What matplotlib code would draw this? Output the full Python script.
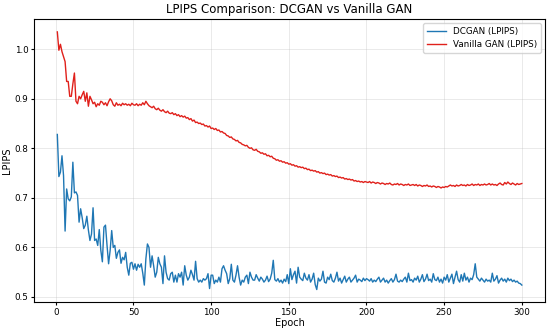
"""LPIPS comparison of DCGAN and Vanilla GAN over training epochs."""

import matplotlib

matplotlib.use("Agg")
import matplotlib.pyplot as plt
import numpy as np

# LPIPS per epoch (epochs 1..300)
dcgan_lpips = [
    0.828, 0.743, 0.752, 0.785, 0.745, 0.633, 0.718, 0.698, 0.694, 0.702,
    0.772, 0.710, 0.712, 0.705, 0.651, 0.678, 0.660, 0.638, 0.645, 0.663,
    0.635, 0.614, 0.627, 0.680, 0.614, 0.617, 0.604, 0.636, 0.594, 0.571,
    0.641, 0.645, 0.604, 0.567, 0.594, 0.634, 0.600, 0.604, 0.578, 0.590,
    0.595, 0.568, 0.580, 0.575, 0.590, 0.560, 0.544, 0.568, 0.570, 0.556,
    0.567, 0.554, 0.566, 0.560, 0.567, 0.548, 0.524, 0.577, 0.607, 0.600,
    0.560, 0.583, 0.563, 0.540, 0.550, 0.580, 0.567, 0.560, 0.527, 0.583,
    0.550, 0.537, 0.534, 0.547, 0.550, 0.530, 0.544, 0.530, 0.547, 0.540,
    0.550, 0.524, 0.563, 0.544, 0.534, 0.540, 0.554, 0.545, 0.534, 0.572,
    0.537, 0.530, 0.534, 0.530, 0.537, 0.534, 0.537, 0.547, 0.517, 0.544,
    0.544, 0.527, 0.534, 0.530, 0.540, 0.530, 0.557, 0.563, 0.554, 0.547,
    0.527, 0.537, 0.566, 0.534, 0.530, 0.544, 0.563, 0.540, 0.524, 0.534,
    0.530, 0.540, 0.544, 0.527, 0.550, 0.540, 0.534, 0.534, 0.545, 0.538,
    0.532, 0.540, 0.536, 0.530, 0.534, 0.542, 0.531, 0.536, 0.548, 0.574,
    0.535, 0.532, 0.537, 0.530, 0.534, 0.528, 0.536, 0.531, 0.545, 0.527,
    0.557, 0.535, 0.545, 0.552, 0.528, 0.560, 0.540, 0.536, 0.533, 0.548,
    0.538, 0.534, 0.545, 0.530, 0.536, 0.548, 0.525, 0.515, 0.538, 0.532,
    0.536, 0.552, 0.530, 0.528, 0.540, 0.535, 0.546, 0.533, 0.530, 0.538,
    0.550, 0.532, 0.538, 0.528, 0.535, 0.542, 0.530, 0.536, 0.540, 0.530,
    0.534, 0.538, 0.544, 0.530, 0.536, 0.534, 0.531, 0.538, 0.533, 0.537,
    0.535, 0.532, 0.537, 0.530, 0.534, 0.531, 0.536, 0.540, 0.530, 0.534,
    0.538, 0.530, 0.534, 0.528, 0.533, 0.537, 0.530, 0.535, 0.546, 0.532,
    0.530, 0.534, 0.531, 0.536, 0.540, 0.530, 0.548, 0.533, 0.535, 0.530,
    0.538, 0.534, 0.542, 0.530, 0.536, 0.545, 0.531, 0.536, 0.546, 0.533,
    0.536, 0.530, 0.547, 0.535, 0.533, 0.540, 0.530, 0.536, 0.528, 0.540,
    0.534, 0.545, 0.530, 0.538, 0.546, 0.527, 0.540, 0.552, 0.535, 0.530,
    0.545, 0.532, 0.548, 0.534, 0.540, 0.530, 0.538, 0.535, 0.545, 0.567,
    0.540, 0.536, 0.532, 0.538, 0.534, 0.530, 0.536, 0.532, 0.534, 0.530,
    0.548, 0.532, 0.536, 0.543, 0.528, 0.534, 0.538, 0.532, 0.536, 0.530,
    0.538, 0.533, 0.536, 0.531, 0.534, 0.530, 0.532, 0.528, 0.527, 0.524,
]

vanilla_lpips = [
    1.035, 0.998, 1.010, 0.995, 0.985, 0.975, 0.935, 0.935, 0.905, 0.905,
    0.930, 0.952, 0.895, 0.890, 0.905, 0.900, 0.908, 0.915, 0.895, 0.912,
    0.885, 0.905, 0.898, 0.890, 0.893, 0.884, 0.890, 0.887, 0.895, 0.893,
    0.888, 0.892, 0.886, 0.894, 0.900, 0.896, 0.888, 0.885, 0.892, 0.887,
    0.889, 0.886, 0.891, 0.888, 0.890, 0.887, 0.889, 0.886, 0.891, 0.888,
    0.887, 0.890, 0.886, 0.889, 0.887, 0.892, 0.888, 0.895, 0.890, 0.886,
    0.884, 0.882, 0.885, 0.880, 0.878, 0.881, 0.877, 0.875, 0.878, 0.874,
    0.872, 0.875, 0.871, 0.870, 0.872, 0.868, 0.870, 0.866, 0.868, 0.864,
    0.866, 0.863, 0.865, 0.861, 0.862, 0.858, 0.860, 0.855, 0.857, 0.852,
    0.853, 0.850, 0.851, 0.848, 0.849, 0.845, 0.846, 0.843, 0.845, 0.840,
    0.841, 0.838, 0.840, 0.836, 0.837, 0.833, 0.834, 0.831, 0.830, 0.826,
    0.825, 0.822, 0.823, 0.819, 0.818, 0.815, 0.816, 0.812, 0.811, 0.808,
    0.807, 0.805, 0.806, 0.802, 0.800, 0.801, 0.797, 0.796, 0.798, 0.794,
    0.793, 0.790, 0.791, 0.788, 0.789, 0.785, 0.786, 0.783, 0.784, 0.780,
    0.779, 0.776, 0.777, 0.774, 0.775, 0.772, 0.773, 0.770, 0.771, 0.768,
    0.769, 0.766, 0.767, 0.764, 0.765, 0.762, 0.763, 0.761, 0.762, 0.759,
    0.760, 0.757, 0.758, 0.755, 0.756, 0.754, 0.755, 0.752, 0.753, 0.750,
    0.751, 0.749, 0.750, 0.747, 0.748, 0.746, 0.747, 0.744, 0.745, 0.743,
    0.744, 0.741, 0.742, 0.740, 0.741, 0.738, 0.739, 0.737, 0.738, 0.736,
    0.737, 0.734, 0.735, 0.733, 0.734, 0.732, 0.733, 0.731, 0.733, 0.732,
    0.731, 0.733, 0.730, 0.732, 0.731, 0.729, 0.731, 0.730, 0.728, 0.730,
    0.729, 0.727, 0.729, 0.728, 0.730, 0.727, 0.726, 0.728, 0.727, 0.729,
    0.726, 0.728, 0.727, 0.725, 0.727, 0.726, 0.728, 0.725, 0.726, 0.727,
    0.725, 0.727, 0.724, 0.726, 0.725, 0.723, 0.725, 0.724, 0.726, 0.723,
    0.724, 0.722, 0.724, 0.723, 0.721, 0.723, 0.722, 0.720, 0.722, 0.721,
    0.723, 0.722, 0.724, 0.726, 0.724, 0.725, 0.723, 0.726, 0.724, 0.725,
    0.727, 0.725, 0.726, 0.724, 0.727, 0.725, 0.726, 0.728, 0.725, 0.727,
    0.726, 0.728, 0.725, 0.727, 0.726, 0.728, 0.726, 0.727, 0.729, 0.726,
    0.728, 0.726, 0.727, 0.725, 0.728, 0.730, 0.727, 0.726, 0.731, 0.728,
    0.732, 0.729, 0.727, 0.730, 0.728, 0.726, 0.729, 0.727, 0.728, 0.729,
]

epochs = np.arange(1, len(dcgan_lpips) + 1)

fig, ax = plt.subplots(figsize=(5.5, 3.28), dpi=100)
fig.subplots_adjust(left=0.062, right=0.991, top=0.942, bottom=0.078)

ax.plot(epochs, dcgan_lpips, label="DCGAN (LPIPS)", color="#1f77b4", linewidth=1.0)
ax.plot(epochs, vanilla_lpips, label="Vanilla GAN (LPIPS)", color="#e0201b", linewidth=1.0)

ax.set_title("LPIPS Comparison: DCGAN vs Vanilla GAN", fontsize=8.5, pad=4)
ax.set_xlabel("Epoch", fontsize=7, labelpad=1)
ax.set_ylabel("LPIPS", fontsize=7, labelpad=2)
ax.tick_params(labelsize=6.3, length=2.5, pad=1.5)
ax.grid(alpha=0.3, linewidth=0.6)
ax.legend(loc="upper right", fontsize=6.3, handlelength=2.2)

fig.savefig("out.png", dpi=100)
